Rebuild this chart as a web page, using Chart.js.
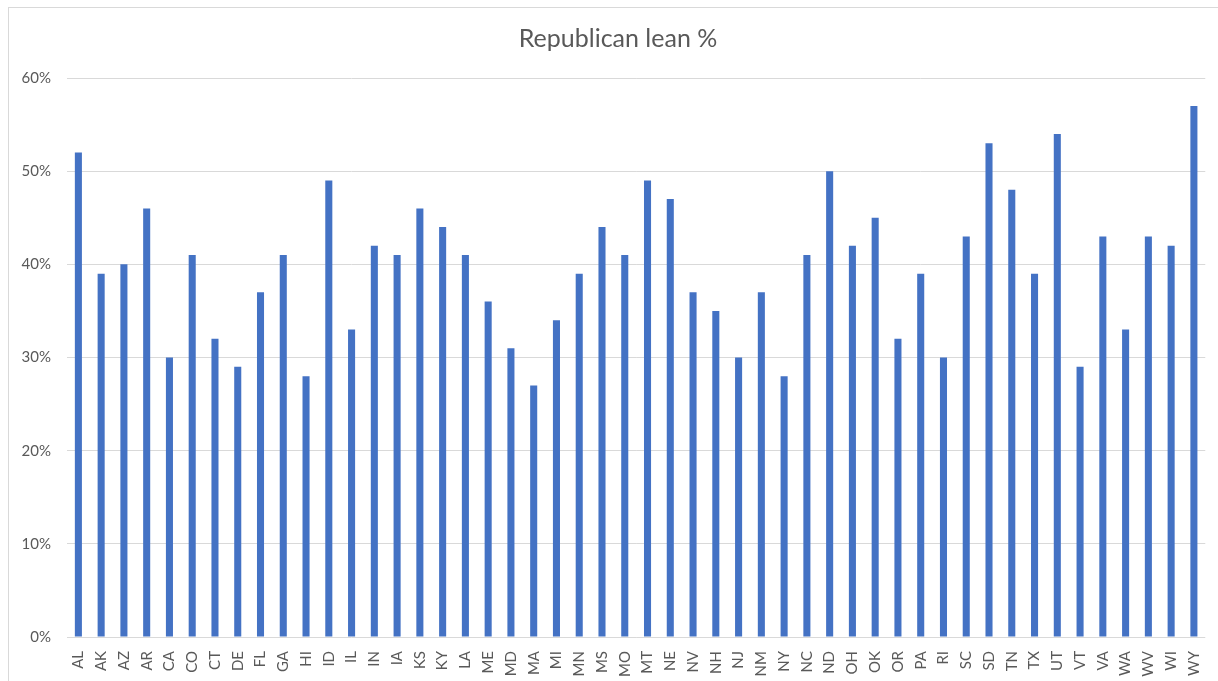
<!DOCTYPE html>
<html>
<head>
<meta charset="utf-8">
<script src="https://cdn.jsdelivr.net/npm/chart.js@4.4.1/dist/chart.umd.min.js"></script>
<style>
  html, body { margin: 0; padding: 0; background: #ffffff; }
  #wrap { position: relative; width: 1218px; height: 681px; overflow: hidden; }
  #frame { position: absolute; left: 8px; top: 7px; width: 1300px; height: 800px;
           border-left: 1px solid #d9d9d9; border-top: 1px solid #d9d9d9; box-sizing: border-box; }
  canvas { position: absolute; left: 0; top: 0; }
</style>
</head>
<body>
<div id="wrap">
  <div id="frame"></div>
  <canvas id="chart" width="1218" height="681"></canvas>
</div>
<script>
// State abbreviations and the Republican-leaning share of each
const states = ['AL','AK','AZ','AR','CA','CO','CT','DE','FL','GA','HI','ID','IL','IN','IA','KS','KY','LA','ME','MD',
                'MA','MI','MN','MS','MO','MT','NE','NV','NH','NJ','NM','NY','NC','ND','OH','OK','OR','PA','RI','SC',
                'SD','TN','TX','UT','VT','VA','WA','WV','WI','WY'];
const republicanLean = [52,39,40,46,30,41,32,29,37,41,28,49,33,42,41,46,44,41,36,31,
                        27,34,39,44,41,49,47,37,35,30,37,28,41,50,42,45,32,39,30,43,
                        53,48,39,54,29,43,33,43,42,57];
const yTickValues = [0,10,20,30,40,50,60];
const yTickLabels = ['0%','10%','20%','30%','40%','50%','60%'];

const textColor = '#595959';
const gridColor = '#d9d9d9';
const fontFamily = "Lato, 'Open Sans', 'Liberation Sans', sans-serif";

// Centre the title over the framed chart box rather than the whole canvas
const titleOffset = {
  id: 'titleOffset',
  afterLayout(chart) {
    if (chart.titleBlock) chart.titleBlock.left = 28;
  }
};

new Chart(document.getElementById('chart'), {
  type: 'bar',
  data: {
    labels: states,
    datasets: [{
      label: 'Republican lean %',
      data: republicanLean,
      backgroundColor: '#4472c4',
      borderWidth: 0,
      categoryPercentage: 1.0,
      barPercentage: 0.31
    }]
  },
  options: {
    responsive: false,
    animation: false,
    layout: { padding: { left: 0, right: 10, top: 0, bottom: 0 } },
    plugins: {
      legend: { display: false },
      tooltip: { enabled: false },
      title: {
        display: true,
        text: 'Republican lean %',
        color: textColor,
        font: { family: fontFamily, size: 25, weight: 'normal', lineHeight: 1.2 },
        padding: { top: 24, bottom: 24 }
      }
    },
    scales: {
      x: {
        grid: { display: false },
        border: { display: false },
        ticks: {
          color: textColor,
          font: { family: fontFamily, size: 15 },
          minRotation: 90,
          maxRotation: 90,
          autoSkip: false,
          padding: 6
        },
        afterFit: (scale) => { scale.height = 44; }
      },
      y: {
        min: 0,
        max: 60,
        afterBuildTicks: (scale) => { scale.ticks = yTickValues.map(v => ({ value: v })); },
        grid: { color: gridColor, lineWidth: 1, drawTicks: false },
        border: { display: false },
        ticks: {
          color: textColor,
          font: { family: fontFamily, size: 15 },
          padding: 16,
          callback: (v) => yTickLabels[yTickValues.indexOf(v)]
        },
        afterFit: (scale) => { scale.width = 67; }
      }
    }
  },
  plugins: [titleOffset]
});
</script>
</body>
</html>
